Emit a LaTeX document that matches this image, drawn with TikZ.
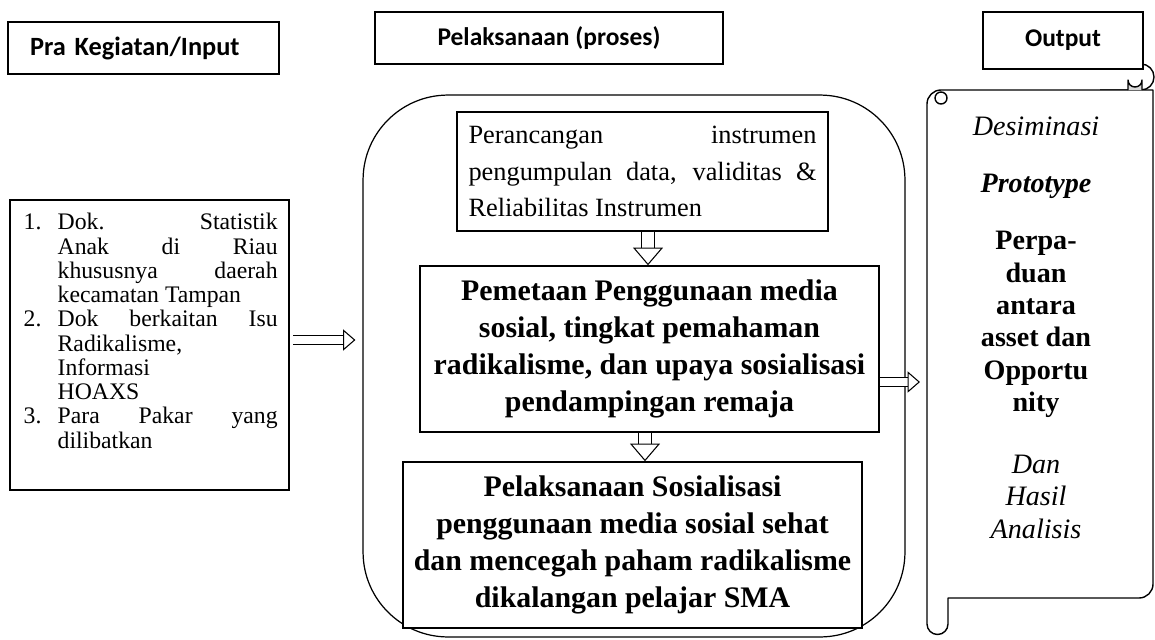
\documentclass[tikz,border=0pt]{standalone}
\usepackage{fontspec}
\setmainfont{Liberation Serif}
\newfontfamily\hdrfont{Carlito}
\usetikzlibrary{arrows.meta, positioning}

\newcommand{\numitem}[2]{\par\noindent\hangindent=0.68cm\hangafter=1\makebox[0.68cm][l]{#1}#2\par}

\begin{document}
\begin{tikzpicture}[
    x=0.02cm, y=-0.02cm,
    hdr/.style={draw, line width=0.7pt, fill=white, inner sep=0pt, font=\hdrfont\bfseries\fontsize{14.5}{17}\selectfont},
    box/.style={draw, line width=0.9pt, fill=white, align=center, inner sep=0pt, font=\bfseries\fontsize{17}{21}\selectfont},
    jbox/.style={draw, line width=0.8pt, fill=white, inner sep=0pt, align=justify, font=\fontsize{15}{21}\selectfont},
    scrl/.style={line width=0.8pt, line join=round},
    harr/.style={double=white, double distance=4.5pt, line width=0.6pt, shorten >=4pt, -{Triangle[open, length=7pt, width=12pt]}},
    varr/.style={double=white, double distance=7pt, line width=0.6pt, -{Triangle[open, length=10pt, width=17pt]}},
  ]
    \useasboundingbox (0,0) rectangle (1155,639);

    \node[hdr, minimum width=5.42cm, minimum height=1.04cm, text width=4.54cm, inner xsep=0.44cm, align=left,
      font=\hdrfont\bfseries\fontsize{15}{17}\selectfont] (hdrin) at (143.5,48) {Pra Kegiatan/Input};
    \node[hdr, minimum width=6.96cm, minimum height=1.04cm] (hdrproses) at (549,38) {Pelaksanaan (proses)};

    \node[draw, line width=0.8pt, minimum width=5.58cm, minimum height=5.8cm] (prain) at (149.5,345) {};
    \node[anchor=north west, inner sep=0pt, text width=5.08cm, align=justify, font=\fontsize{13.5}{13.8}\selectfont] (praintxt)
      at ([xshift=0.28cm, yshift=-0.12cm]prain.north west) {%
      \numitem{1.}{Dok. Statistik\linebreak Anak di Riau\linebreak khususnya daerah\linebreak kecamatan Tampan}
      \numitem{2.}{Dok berkaitan Isu\linebreak Radikalisme,\newline Informasi\newline HOAXS}
      \numitem{3.}{Para Pakar yang\linebreak dilibatkan}};

    \node[draw, line width=0.7pt, rounded corners=1.7cm, minimum width=10.84cm, minimum height=10.84cm] (proses) at (634,366) {};

    \node[jbox, minimum width=7.42cm, minimum height=2.38cm, text width=6.96cm] (rancang) at (642.5,171.5)
      {Perancangan instrumen\linebreak pengumpulan data, validitas \&\linebreak Reliabilitas Instrumen};
    \node[box, minimum width=9.18cm, minimum height=3.32cm] (petakan) at (649.5,349)
      {Pemetaan Penggunaan media\\ sosial, tingkat pemahaman\\ radikalisme, dan upaya sosialisasi\\ pendampingan remaja};
    \node[box, minimum width=9.18cm, minimum height=3.32cm] (sosial) at (632.5,545)
      {Pelaksanaan Sosialisasi\\ penggunaan media sosial sehat\\ dan mencegah paham radikalisme\\ dikalangan pelajar SMA};

    % scroll
    \draw[scrl, fill=white] (1100,64) -- (1141,64) arc[start angle=270, end angle=450, radius=13] -- (1100,90);
    \draw[scrl, fill=white] (927,104) arc[start angle=180, end angle=270, radius=14] -- (1153,90) -- (1153,584)
      arc[start angle=0, end angle=90, radius=14] -- (948,598) -- (948,624)
      arc[start angle=0, end angle=180, radius=10.5] -- cycle;
    \draw[scrl] (941,98) circle[radius=6];
    \draw[scrl, fill=gray!30] (1128,90) -- (1128,80) arc[start angle=180, end angle=0, radius=7] -- (1142,90);
    \node[anchor=north, inner sep=0pt, align=center, font=\fontsize{16}{18.4}\selectfont] (outtxt) at (1036,117)
      {\textit{Desiminasi}\\[14pt] \textbf{\textit{Prototype}}\\[14pt] \textbf{Perpa-}\\ \textbf{duan}\\ \textbf{antara}\\
       \textbf{asset dan}\\ \textbf{Opportu}\\ \textbf{nity}\\[17pt] \textit{Dan}\\ \textit{Hasil}\\ \textit{Analisis}};
    \coordinate (outleft) at (927,382);

    \node[hdr, minimum width=3.2cm, minimum height=1.14cm] (hdrout) at (1063,40.5) {Output};

    \coordinate (lefty) at (0,340);
    \coordinate (downa) at (648,0);
    \coordinate (downb) at (645,0);
    \draw[harr] ([xshift=2pt]prain.east |- lefty) -- (proses.west |- lefty);
    \draw[harr] (petakan.east |- outleft) -- (outleft);
    \draw[varr] (rancang.south -| downa) -- (petakan.north -| downa);
    \draw[varr] (petakan.south -| downb) -- (sosial.north -| downb);
  \end{tikzpicture}
\end{document}
